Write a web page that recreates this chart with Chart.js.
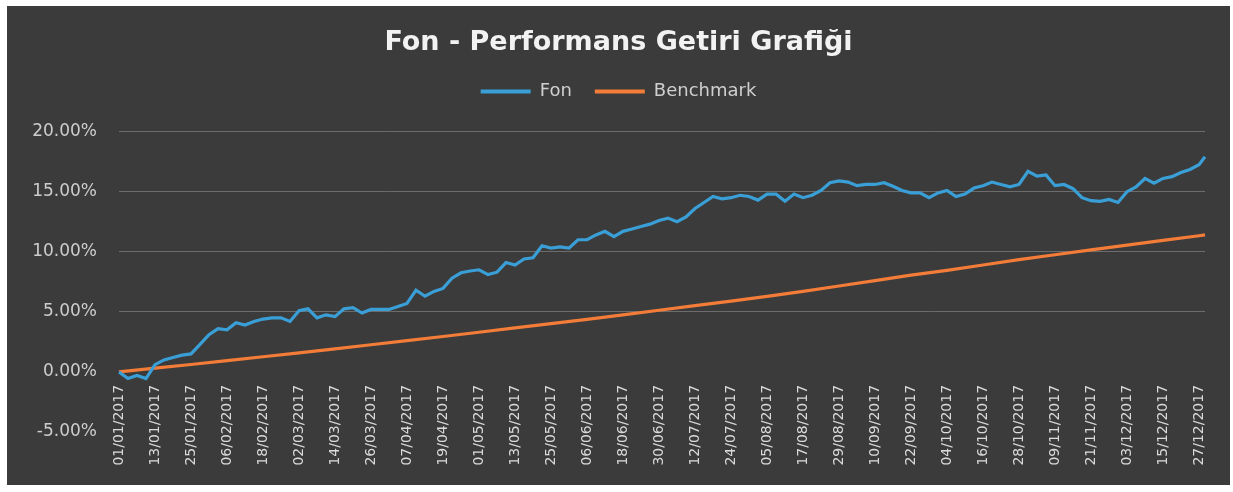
<!DOCTYPE html>
<html><head><meta charset="utf-8">
<script src="https://cdn.jsdelivr.net/npm/chart.js@4/dist/chart.umd.min.js"></script>
<style>
html,body{margin:0;padding:0;background:#ffffff;}
#panel{position:absolute;left:7px;top:6px;width:1223px;height:479px;background:#3b3b3b;}
canvas{display:block;}
</style></head><body>
<div id="panel"><canvas id="c" width="1223" height="479"></canvas></div>
<script>
// Axis tick labels shown on the date axis (every 12th day)
const tickLabels = ['01/01/2017','13/01/2017','25/01/2017','06/02/2017','18/02/2017','02/03/2017','14/03/2017','26/03/2017','07/04/2017','19/04/2017','01/05/2017','13/05/2017','25/05/2017','06/06/2017','18/06/2017','30/06/2017','12/07/2017','24/07/2017','05/08/2017','17/08/2017','29/08/2017','10/09/2017','22/09/2017','04/10/2017','16/10/2017','28/10/2017','09/11/2017','21/11/2017','03/12/2017','15/12/2017','27/12/2017'];
const lastDate = '29/12/2017';

// Fon return (%), read every 3 days from 01/01/2017, last value on 29/12/2017
const fon = [
  0.0, -0.55, -0.3, -0.55, 0.6, 1.0, 1.2, 1.4, 1.5, 2.3,
  3.1, 3.6, 3.5, 4.1, 3.9, 4.2, 4.4, 4.5, 4.5, 4.2,
  5.1, 5.25, 4.5, 4.75, 4.6, 5.25, 5.35, 4.9, 5.2, 5.2,
  5.2, 5.45, 5.7, 6.8, 6.3, 6.7, 6.95, 7.8, 8.25, 8.4,
  8.5, 8.1, 8.3, 9.1, 8.9, 9.4, 9.5, 10.5, 10.3, 10.4,
  10.3, 11.0, 11.0, 11.4, 11.7, 11.25, 11.7, 11.9, 12.1, 12.3,
  12.6, 12.8, 12.5, 12.9, 13.6, 14.1, 14.6, 14.4, 14.5, 14.7,
  14.6, 14.3, 14.8, 14.8, 14.2, 14.8, 14.5, 14.7, 15.1, 15.75,
  15.9, 15.8, 15.5, 15.6, 15.6, 15.75, 15.45, 15.1, 14.9, 14.9,
  14.5, 14.9, 15.1, 14.6, 14.8, 15.3, 15.5, 15.8, 15.6, 15.4,
  15.6, 16.7, 16.3, 16.4, 15.5, 15.6, 15.25, 14.5, 14.25, 14.2,
  14.35, 14.1, 15.0, 15.4, 16.1, 15.7, 16.1, 16.25, 16.6, 16.85,
  17.25, 17.9
];

// Benchmark return (%), read at each tick date and at 29/12/2017
const benchmark = [0, 0.31, 0.62, 0.94, 1.26, 1.59, 1.92, 2.26, 2.60, 2.95, 3.30, 3.66, 4.02, 4.38, 4.75, 5.13,
  5.51, 5.89, 6.28, 6.70, 7.15, 7.60, 8.05, 8.45, 8.90, 9.35, 9.75, 10.15, 10.55, 10.95, 11.33, 11.40];

const yTicks = [-5, 0, 5, 10, 15, 20];

// Daily category axis 01/01/2017 .. 29/12/2017
const days = [];
for (let d = new Date(Date.UTC(2017,0,1)); d <= new Date(Date.UTC(2017,11,29)); d.setUTCDate(d.getUTCDate()+1)) {
  days.push(String(d.getUTCDate()).padStart(2,'0') + '/' + String(d.getUTCMonth()+1).padStart(2,'0') + '/' + d.getUTCFullYear());
}
const tickSet = new Set(tickLabels);
const fonPoints = fon.map((v, i) => ({x: days[Math.min(i * 3, days.length - 1)], y: v}));
const benchDates = tickLabels.concat([lastDate]);
const benchPoints = benchmark.map((v, i) => ({x: benchDates[i], y: v}));

const FONT = "'DejaVu Sans', sans-serif";
const BLUE = '#3a9fd6';
const ORANGE = '#f27c38';

new Chart(document.getElementById('c'), {
  type: 'line',
  data: {
    labels: days,
    datasets: [
      {label: 'Fon', data: fonPoints, borderColor: BLUE, backgroundColor: BLUE, borderWidth: 3.2, pointRadius: 0, tension: 0},
      {label: 'Benchmark', data: benchPoints, borderColor: ORANGE, backgroundColor: ORANGE, borderWidth: 3.2, pointRadius: 0, tension: 0}
    ]
  },
  options: {
    responsive: false,
    animation: false,
    layout: {padding: {left: 0, right: 0, top: 0, bottom: 53}},
    plugins: {
      tooltip: {enabled: false},
      title: {
        display: true, text: 'Fon - Performans Getiri Grafiği', color: '#f2f2f2',
        font: {family: FONT, size: 27, weight: 'bold'}, padding: {top: 21, bottom: 0}
      },
      subtitle: {display: true, text: '', weight: 500, font: {size: 1}, padding: {top: 0, bottom: 20}},
      legend: {
        display: true, position: 'top',
        labels: {
          color: '#cfcfcf', font: {family: FONT, size: 18}, boxWidth: 50, boxHeight: 4, padding: 23,
          generateLabels: (chart) => Chart.defaults.plugins.legend.labels.generateLabels(chart).map(l => Object.assign(l, {lineWidth: 0}))
        }
      }
    },
    scales: {
      x: {
        type: 'category',
        position: {y: 0},
        grid: {display: false, drawTicks: false},
        border: {display: false},
        afterFit: (s) => { s.paddingLeft = 0; s.paddingRight = 0; },
        ticks: {
          autoSkip: false, minRotation: 90, maxRotation: 90, padding: 13,
          color: '#dadada', font: {family: FONT, size: 14},
          callback: (val) => tickSet.has(days[val]) ? days[val] : ''
        }
      },
      y: {
        min: yTicks[0], max: yTicks[yTicks.length - 1],
        afterBuildTicks: (s) => { s.ticks = yTicks.map(v => ({value: v})); },
        afterFit: (s) => { s.width = 112; },
        grid: {
          drawTicks: false, lineWidth: 1,
          color: (ctx) => (ctx.tick && ctx.tick.value > 0) ? '#6c6c6c' : 'rgba(0,0,0,0)'
        },
        border: {display: false},
        ticks: {
          padding: 22, color: '#cdcdcd', font: {family: FONT, size: 17},
          callback: (v) => v.toFixed(2) + '%'
        }
      },
      // empty right-hand margin of the plot area
      yRight: {
        position: 'right',
        display: true,
        grid: {display: false, drawTicks: false},
        border: {display: false},
        ticks: {display: false},
        afterFit: (s) => { s.width = 25; }
      }
    }
  }
});
</script>
</body></html>
